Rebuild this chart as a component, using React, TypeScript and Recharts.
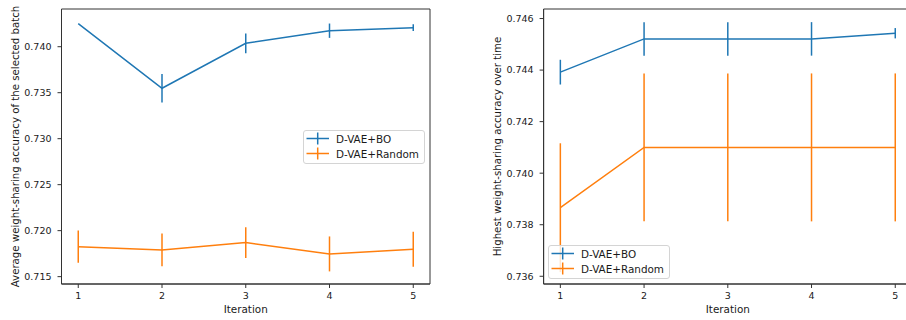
import { ErrorBar, Label, Legend, Line, LineChart, ReferenceArea, XAxis, YAxis } from 'recharts'

const iterations = [1, 2, 3, 4, 5]
const seriesNames = ['D-VAE+BO', 'D-VAE+Random']
const xDomain: [number, number] = [0.8, 5.2]

// left panel: average accuracy of the selected batch
const avgBo = [0.7425, 0.73548, 0.74037, 0.74174, 0.74207]
const avgBoErr = [0, 0.00155, 0.00107, 0.00078, 0.00036]
const avgRandom = [0.71826, 0.7179, 0.7187, 0.71747, 0.71797]
const avgRandomErr = [0.00176, 0.00178, 0.00168, 0.0019, 0.0019]
const avgTicks = [0.715, 0.72, 0.725, 0.73, 0.735, 0.74]

// right panel: best accuracy found so far
const bestBo = [0.74392, 0.74521, 0.74521, 0.74521, 0.74543]
const bestBoErr = [0.00048, 0.00065, 0.00065, 0.00065, 0.0002]
const bestRandom = [0.73866, 0.741, 0.741, 0.741, 0.741]
const bestRandomErr = [0.0025, 0.00287, 0.00287, 0.00287, 0.00287]
const bestTicks = [0.736, 0.738, 0.74, 0.742, 0.744, 0.746]

const BLUE = '#1f77b4'
const ORANGE = '#ff7f0e'
const SPINE = '#333'
const FONT = '"DejaVu Sans", sans-serif'

type Row = { iter: number; bo: number; boErr: number; rnd: number; rndErr: number }

const buildRows = (bo: number[], boErr: number[], rnd: number[], rndErr: number[]): Row[] =>
  iterations.map((iter, i) => ({ iter, bo: bo[i], boErr: boErr[i], rnd: rnd[i], rndErr: rndErr[i] }))

function LegendBox({ payload }: any) {
  return (
    <div
      style={{
        width: 122,
        height: 34,
        boxSizing: 'border-box',
        border: '1px solid #d4d4d4',
        borderRadius: 3,
        background: 'rgba(255,255,255,0.8)',
        fontFamily: FONT,
        fontSize: 10.4,
        color: '#1a1a1a',
      }}
    >
      {(payload ?? []).map((p: any) => (
        <div key={p.value} style={{ display: 'flex', alignItems: 'center', height: 15 }}>
          <svg width={32} height={15} style={{ flex: 'none' }}>
            <line x1={2.5} x2={25} y1={7.5} y2={7.5} stroke={p.color} strokeWidth={1.5} />
            <line x1={13.7} x2={13.7} y1={1.5} y2={13.5} stroke={p.color} strokeWidth={1.5} />
          </svg>
          <span>{p.value}</span>
        </div>
      ))}
    </div>
  )
}

type PanelProps = {
  rows: Row[]
  yDomain: [number, number]
  yTicks: number[]
  yLabel: string
  width: number
  yAxisWidth: number
  marginRight: number
  yLabelOffset: number
  legendLeft: number
  legendTop: number
}

function Panel(p: PanelProps) {
  const tickStyle = { fontSize: 9.5, fill: '#1a1a1a', fontFamily: FONT }
  return (
    <LineChart width={p.width} height={320} data={p.rows} margin={{ top: 9, right: p.marginRight, bottom: 0, left: 0 }}>
      <XAxis
        dataKey="iter"
        type="number"
        domain={xDomain}
        allowDataOverflow
        ticks={iterations}
        height={36}
        tick={tickStyle}
        tickSize={4}
        tickMargin={4.5}
        axisLine={{ stroke: SPINE }}
        tickLine={{ stroke: SPINE }}
      >
        <Label value="Iteration" position="insideBottom" offset={7.5} style={{ fontSize: 10.4, fill: '#1a1a1a', fontFamily: FONT }} />
      </XAxis>
      <YAxis
        type="number"
        domain={p.yDomain}
        allowDataOverflow
        ticks={p.yTicks}
        tickFormatter={(v: number) => v.toFixed(3)}
        width={p.yAxisWidth}
        tick={tickStyle}
        tickSize={4}
        tickMargin={6}
        axisLine={{ stroke: SPINE }}
        tickLine={{ stroke: SPINE }}
      >
        <Label
          value={p.yLabel}
          angle={-90}
          position="insideLeft"
          offset={p.yLabelOffset}
          style={{ textAnchor: 'middle', fontSize: 10.2, fill: '#1a1a1a', fontFamily: FONT }}
        />
      </YAxis>
      {/* frame (top and right spines) */}
      <ReferenceArea
        x1={xDomain[0]}
        x2={xDomain[1]}
        y1={p.yDomain[0]}
        y2={p.yDomain[1]}
        fill="none"
        fillOpacity={0}
        stroke={SPINE}
        strokeWidth={1}
        ifOverflow="visible"
      />
      <Line dataKey="bo" name={seriesNames[0]} stroke={BLUE} strokeWidth={1.5} dot={false} activeDot={false} isAnimationActive={false}>
        <ErrorBar dataKey="boErr" direction="y" width={0} stroke={BLUE} strokeWidth={1.5} isAnimationActive={false} />
      </Line>
      <Line dataKey="rnd" name={seriesNames[1]} stroke={ORANGE} strokeWidth={1.5} dot={false} activeDot={false} isAnimationActive={false}>
        <ErrorBar dataKey="rndErr" direction="y" width={0} stroke={ORANGE} strokeWidth={1.5} isAnimationActive={false} />
      </Line>
      <Legend
        layout="vertical"
        align="center"
        verticalAlign="middle"
        content={<LegendBox />}
        wrapperStyle={{ left: p.legendLeft, top: p.legendTop, width: 122, height: 34 }}
      />
    </LineChart>
  )
}

export default function App() {
  return (
    <div style={{ position: 'absolute', left: 0, top: 0, width: 906, height: 320, overflow: 'hidden', background: '#fff', fontFamily: FONT }}>
      <div style={{ position: 'absolute', left: 0, top: 0 }}>
        <Panel
          rows={buildRows(avgBo, avgBoErr, avgRandom, avgRandomErr)}
          yDomain={[0.7142, 0.7441]}
          yTicks={avgTicks}
          yLabel="Average weight-sharing accuracy of the selected batch"
          width={453}
          yAxisWidth={61.5}
          marginRight={23}
          yLabelOffset={15.3}
          legendLeft={303}
          legendTop={130}
        />
      </div>
      <div style={{ position: 'absolute', left: 453, top: 0 }}>
        <Panel
          rows={buildRows(bestBo, bestBoErr, bestRandom, bestRandomErr)}
          yDomain={[0.7357, 0.74637]}
          yTicks={bestTicks}
          yLabel="Highest weight-sharing accuracy over time"
          width={459}
          yAxisWidth={90.6}
          marginRight={0}
          yLabelOffset={44.7}
          legendLeft={95}
          legendTop={245}
        />
      </div>
    </div>
  )
}
